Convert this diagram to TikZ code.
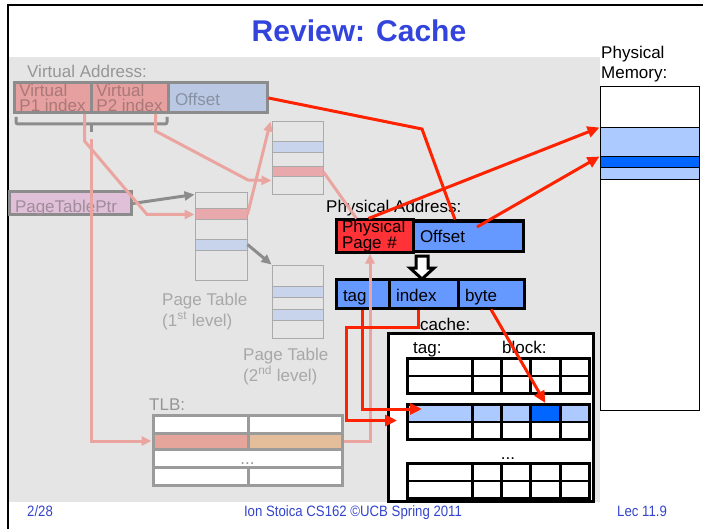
\documentclass[tikz,border=0pt]{standalone}
\usepackage{fontspec}
\setmainfont{Liberation Sans}
\newfontfamily\footfont[FakeStretch=0.88]{Liberation Sans}
\usetikzlibrary{arrows.meta}

\definecolor{bggray}{RGB}{229,229,229}
\definecolor{titleblue}{RGB}{51,68,221}
\definecolor{footblue}{RGB}{51,68,204}
\definecolor{vaedge}{RGB}{140,140,140}
\definecolor{vatext}{RGB}{150,150,150}
\definecolor{vapink}{RGB}{230,160,160}
\definecolor{vapinktext}{RGB}{170,120,120}
\definecolor{vablue}{RGB}{187,200,228}
\definecolor{vabluetext}{RGB}{135,145,162}
\definecolor{ptrfill}{RGB}{224,192,216}
\definecolor{ptrtext}{RGB}{160,140,155}
\definecolor{tbledge}{RGB}{170,170,170}
\definecolor{tbltext}{RGB}{168,168,168}
\definecolor{rowred}{RGB}{232,168,172}
\definecolor{rowblue}{RGB}{200,212,236}
\definecolor{tlbedge}{RGB}{155,155,155}
\definecolor{tlbleft}{RGB}{230,165,155}
\definecolor{tlbright}{RGB}{228,190,155}
\definecolor{pared}{RGB}{255,50,55}
\definecolor{pablue}{RGB}{102,153,255}
\definecolor{hitblue}{RGB}{172,202,255}
\definecolor{deepblue}{RGB}{0,102,255}
\definecolor{hot}{RGB}{255,34,0}
\definecolor{pinkl}{RGB}{235,165,160}
\definecolor{grayl}{RGB}{140,140,140}

\newcommand{\labfont}{\fontsize{17}{14}\selectfont}
\newcommand{\vafont}{\fontsize{17}{15}\selectfont}
\newcommand{\capfont}{\fontsize{17}{21}\selectfont}
\newcommand{\titlefont}{\fontsize{30}{30}\selectfont\bfseries}
\newcommand{\footsize}{\footfont\fontsize{15}{15}\selectfont}

\tikzset{
  wh/.style 2 args={minimum width=#1, minimum height=#2},
  vabox/.style={draw=vaedge, line width=3pt, inner sep=0pt},
  tblbox/.style={draw=tbledge, line width=1pt, inner sep=0pt},
  pabox/.style={draw=black, line width=3pt, inner sep=0pt, inner xsep=7pt, font=\labfont, align=left},
  tlbbox/.style={draw=tlbedge, line width=3pt, fill=white, inner sep=0pt},
  slot/.style={draw=black, line width=2.5pt, inner sep=0pt, anchor=north west},
  redarrow/.style={hot, line width=3pt, -{Triangle[length=12pt,width=11pt]}},
  pinkarrow/.style={pinkl, line width=3pt, -{Triangle[length=10pt,width=9pt]}},
  grayarrow/.style={grayl, line width=3pt, -{Triangle[length=10pt,width=9pt]}},
  graylabel/.style={font=\capfont, text=tbltext, align=left, anchor=north west, inner sep=0pt},
}

\begin{document}
\begin{tikzpicture}[x=1pt, y=-1pt]
        \useasboundingbox (0,0) rectangle (703,529);
        \fill[bggray] (9,57) rectangle (600,502);
        \draw[line width=2pt] (8,529) -- (8,5) -- (703,5);

        \node[font=\titlefont, text=titleblue, anchor=base, inner sep=0pt] (title) at (359,42) {Review: Cache};
        \node[font=\fontsize{17}{20}\selectfont, align=left, anchor=north west, inner sep=0pt] (pmlabel) at (601,45.6) {Physical\\Memory:};

        \node[draw, line width=1pt, fill=white, inner sep=0pt, wh={99pt}{323pt}] (pm) at (649.5,248.5) {};
        \node[draw, line width=1pt, fill=hitblue, inner sep=0pt, wh={99pt}{52pt}] (pmband) at (649.5,154) {};
        \node[draw, line width=1pt, fill=deepblue, inner sep=0pt, wh={99pt}{11pt}] (pmline) at (649.5,162.5) {};

        \node[anchor=base west, font=\labfont, text=vatext, inner sep=0pt] (valabel) at (27,78) {Virtual Address:};
        \node[vabox, fill=vapink, wh={77pt}{30pt}, align=left, font=\vafont, text=vapinktext] (vp1) at (52.5,97.5) {Virtual\\P1 index};
        \node[vabox, fill=vapink, wh={77pt}{30pt}, align=left, font=\vafont, text=vapinktext] (vp2) at (129.5,97.5) {Virtual\\P2 index};
        \node[vabox, fill=vablue, wh={99pt}{30pt}, text width=85pt, inner xsep=7pt, align=left, font=\labfont, text=vabluetext, text height=16pt, text depth=0pt] (voff) at (217.5,98) {Offset};
        \draw[vaedge, line width=3pt, rounded corners=2pt] (16,117) -- (16,124) -- (167,124) -- (167,117);
        \draw[vaedge, line width=3pt] (91,124) -- (91,132);
        \coordinate (brk) at (91,139);

        \node[vabox, fill=ptrfill, wh={122pt}{23pt}, text width=110pt, inner xsep=6pt, align=left, font=\labfont, text=ptrtext, text height=17pt, text depth=0pt] (ptp) at (70,203.5) {PageTablePtr};

        \node[tblbox, wh={52pt}{87pt}] (pt1) at (221,236.5) {};
        \node[tblbox, fill=rowred, wh={52pt}{11pt}] (pt1a) at (221,214.5) {};
        \node[tblbox, fill=rowblue, wh={52pt}{11pt}] (pt1b) at (221,244.5) {};
        \node[tblbox, wh={51pt}{73pt}] (pt3) at (297.5,158.5) {};
        \node[tblbox, fill=rowblue, wh={51pt}{11pt}] (pt3a) at (297.5,147.5) {};
        \node[tblbox, fill=rowred, wh={51pt}{10pt}] (pt3b) at (297.5,172) {};
        \node[tblbox, wh={51pt}{73pt}] (pt2) at (297.5,301.5) {};
        \node[tblbox, fill=rowblue, wh={51pt}{11pt}] (pt2a) at (297.5,291.5) {};
        \node[tblbox, fill=rowblue, wh={51pt}{11pt}] (pt2b) at (297.5,314.5) {};
        \node[graylabel] (pt1label) at (162,292.6) {Page Table\\(1\textsuperscript{st} level)};
        \node[graylabel] (pt2label) at (243,347.6) {Page Table\\(2\textsuperscript{nd} level)};

        \node[anchor=base west, font=\labfont, text=vatext, inner sep=0pt] (tlblabel) at (149,410) {TLB:};
        \node[tlbbox, wh={95pt}{18pt}] (tlb11) at (200.5,424) {};
        \node[tlbbox, wh={94pt}{18pt}] (tlb12) at (295,424) {};
        \node[tlbbox, fill=tlbleft, wh={95pt}{16pt}] (tlb21) at (200.5,441) {};
        \node[tlbbox, fill=tlbright, wh={94pt}{16pt}] (tlb22) at (295,441) {};
        \node[tlbbox, wh={189pt}{18pt}, font=\labfont, text=vatext, text height=12pt, text depth=0pt] (tlb3) at (247.5,458) {...};
        \node[tlbbox, wh={95pt}{18pt}] (tlb41) at (200.5,476) {};
        \node[tlbbox, wh={94pt}{18pt}] (tlb42) at (295,476) {};

        \node[anchor=base west, font=\labfont, inner sep=0pt] (palabel) at (326,213) {Physical Address:};
        \node[pabox, fill=pared, wh={77pt}{30pt}, text width=65pt, inner xsep=6pt] (ppn) at (374.5,236) {Physical\\Page \#};
        \node[pabox, fill=pablue, wh={110pt}{30pt}, text width=96pt, text height=12pt, text depth=0pt] (poff) at (468,236) {Offset};

        \draw[line width=3pt, fill=white] (416,256) -- (428,256) -- (428,268) -- (434,268) -- (422,279) -- (410,268) -- (416,268) -- cycle;

        \node[pabox, fill=pablue, wh={53pt}{29pt}, text width=39pt, text height=16pt, text depth=0pt] (ctag) at (362.5,293.5) {tag};
        \node[pabox, fill=pablue, wh={69pt}{29pt}, text width=55pt, text height=16pt, text depth=0pt] (cidx) at (423.5,293.5) {index};
        \node[pabox, fill=pablue, wh={66pt}{29pt}, text width=52pt, text height=16pt, text depth=0pt] (cbyte) at (491,293.5) {byte};

        \node[anchor=base west, font=\labfont, inner sep=0pt] (cachelabel) at (420,330) {cache:};
        \node[draw, line width=3pt, fill=white, inner sep=0pt, wh={205pt}{168pt}] (cache) at (490.5,417) {};
        \node[anchor=base west, font=\labfont, inner sep=0pt] (taglabel) at (413,353) {tag:};
        \node[anchor=base west, font=\labfont, inner sep=0pt] (blocklabel) at (502,353) {block:};
        \foreach \s/\y/\fa/\fb in {1/357/white/white, 2/403/hitblue/deepblue, 3/462/white/white} {
            \node[slot, fill=\fa, wh={65pt}{17.5pt}] (tag\s0) at (406,\y) {};
            \node[slot, fill=white, wh={65pt}{17.5pt}] (tag\s1) at (406,{\y+17.5}) {};
            \foreach \b/\x/\w/\fc in {1/471/29/\fa, 2/500/29/\fa, 3/529/30/\fb, 4/559/29/\fa} {
                \node[slot, fill=\fc, wh={\w pt}{17.5pt}] (blk\s0\b) at (\x,\y) {};
                \node[slot, fill=white, wh={\w pt}{17.5pt}] (blk\s1\b) at (\x,{\y+17.5}) {};
            }
        }
        \node[anchor=base, font=\labfont, inner sep=0pt] (setdots) at (508,459) {...};

        \draw[grayarrow] (ptp.east) -- ([yshift=-2pt]pt1.north west);
        \draw[grayarrow] (pt1b.east) -- (pt2.north west);

        \coordinate (p1bend) at (147,214.5);
        \coordinate (p2bend) at (248,180);
        \draw[pinkarrow] ([xshift=-8pt]vp1.south east) -- ++(0,27) -- (p1bend) -- (pt1a.west);
        \draw[pinkarrow] ([xshift=-14pt]vp2.south east) -- ++(0,17) -- (p2bend) -- ([yshift=-3pt]pt3b.south west);
        \draw[pinkarrow] (brk) |- (tlb21.west);
        \draw[pinkarrow] (pt1a.east) -- ([xshift=-1pt]pt3.north west);
        \draw[pinkl, line width=3pt] (pt3b.east) -- ([xshift=22pt]ppn.north west);
        \draw[pinkarrow] (tlb22.east) -| ([xshift=-4.5pt]ppn.south);

        \coordinate (offbend) at (422,129);
        \coordinate (idxbend) at (346,327);
        \draw[hot, line width=3pt] (voff.east) -- (offbend) -- ([xshift=-13pt]poff.north);
        \draw[redarrow] ([xshift=-6pt]ppn.north) -- (pmband.north west);
        \draw[redarrow] ([xshift=9pt,yshift=9pt]poff.center) -- (pmline.north west);
        \draw[redarrow] (ctag.south) |- ([xshift=16pt,yshift=4pt]tag20.west);
        \draw[redarrow] ([xshift=-5pt]cidx.south) |- (idxbend) |- ([xshift=-9pt]tag21.north west);
        \draw[redarrow] (cbyte.south) -- (blk203.north);

        \node[font=\footsize, text=footblue, anchor=base west, inner sep=0pt] (pageno) at (27,516) {2/28};
        \node[font=\footsize, text=footblue, anchor=base, inner sep=0pt] (credit) at (353,516) {Ion Stoica CS162 ©UCB Spring 2011};
        \node[font=\footsize, text=footblue, anchor=base west, inner sep=0pt] (lecno) at (617,516) {Lec 11.9};
\end{tikzpicture}
\end{document}
